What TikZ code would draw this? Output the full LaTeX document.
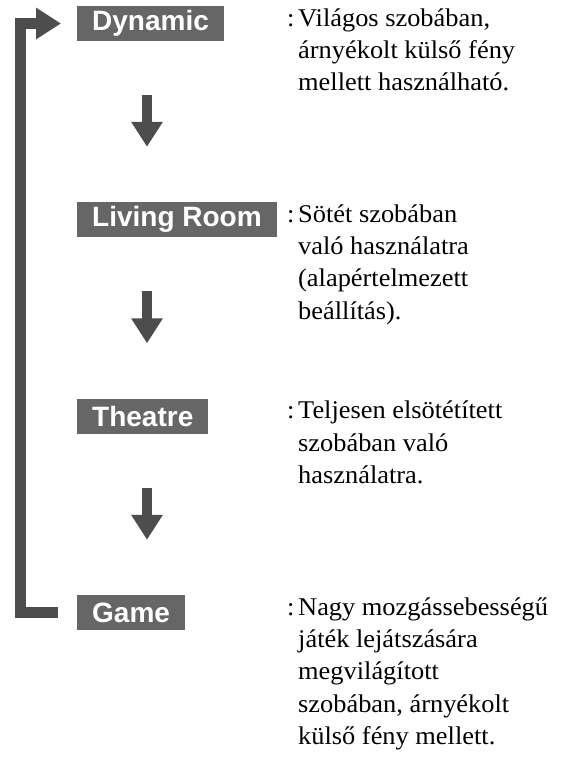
\documentclass[tikz,border=0pt]{standalone}
\usepackage{fontspec}
\setmainfont{Liberation Serif}[BoldFont={Liberation Serif Bold},FakeStretch=1.035]
\newfontfamily\labelfont{Liberation Sans Bold}
\usetikzlibrary{arrows.meta}
\definecolor{boxgray}{HTML}{666666}
\definecolor{arrowgray}{HTML}{4D4D4D}
\tikzset{
  modebox/.style={fill=boxgray, text=white, anchor=west, minimum height=35pt,
    inner xsep=15pt, font=\labelfont\fontsize{28}{28}\selectfont},
  desc/.style={anchor=north west, inner sep=0pt, align=left,
    font=\rmfamily\fontsize{25.5}{32.4}\selectfont},
  colon/.style={anchor=base west, inner sep=0pt, font=\rmfamily\fontsize{25.5}{32.4}\selectfont},
  blockarrow/.style={draw=arrowgray, line width=10.5pt,
    -{Triangle[width=30pt,length=25pt]}}
}
\begin{document}
\begin{tikzpicture}[x=1pt,y=-1pt]
    \useasboundingbox (0,0) rectangle (568,782);
    % Mode boxes
    \node[modebox] (dyn) at (77,23.5) {Dynamic};
    \node[modebox] (liv) at (77,219.5) {Living Room};
    \node[modebox] (thea) at (77,416) {Theatre};
    \node[modebox] (game) at (77,612.5) {Game};
    % Descriptions
    \node[colon] (dyncol) at (287,26) {:};
    \node[desc] (dyndesc) at (298,3.3) {\strut Világos szobában,\\ árnyékolt külső fény\\ mellett használható.};
    \node[colon] (livcol) at (287,222) {:};
    \node[desc] (livdesc) at (298,199.3) {\strut Sötét szobában\\ való használatra\\ (alapértelmezett\\ beállítás).};
    \node[colon] (theacol) at (287,418.5) {:};
    \node[desc] (theadesc) at (298,395.8) {\strut Teljesen elsötétített\\ szobában való\\ használatra.};
    \node[colon] (gamecol) at (287,615) {:};
    \node[desc] (gamedesc) at (298,592.3) {\strut Nagy mozgássebességű\\ játék lejátszására\\ megvilágított\\ szobában, árnyékolt\\ külső fény mellett.};
    % Down arrows
    \coordinate (arrx) at (147,0);
    \draw[blockarrow, shorten <=54pt, shorten >=55pt] (dyn.south -| arrx) -- (liv.north -| arrx);
    \draw[blockarrow, shorten <=54pt, shorten >=55pt] (liv.south -| arrx) -- (thea.north -| arrx);
    \draw[blockarrow, shorten <=54pt, shorten >=55pt] (thea.south -| arrx) -- (game.north -| arrx);
    % Loop back
    \coordinate (loopx) at (20.5,0);
    \draw[blockarrow, shorten <=19pt, shorten >=16pt] (game.west) -- (game.west -| loopx) |- (dyn.west);
\end{tikzpicture}
\end{document}
